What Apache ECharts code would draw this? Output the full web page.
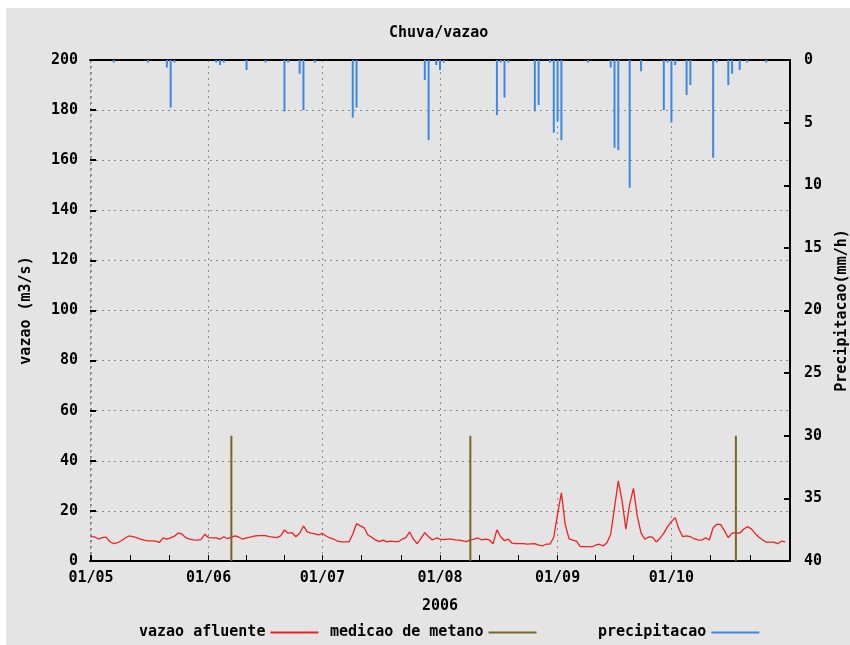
<!DOCTYPE html>
<html>
<head>
<meta charset="utf-8">
<script src="https://cdn.jsdelivr.net/npm/echarts@6/dist/echarts.min.js"></script>
<style>
  html, body { margin: 0; padding: 0; background: #fff; }
  #chart { width: 850px; height: 645px; }
</style>
</head>
<body>
<div id="chart"></div>
<script>
// Daily inflow (m3/s), 1 May 2006 onward
const flowStart = [2006, 4, 1];
const flowValues = [
  9.7, 9.6, 8.8, 9.3, 9.5, 7.7, 6.9, 7.3, 8.1, 9.2,
  10.0, 9.7, 9.3, 8.7, 8.3, 8.0, 8.0, 7.9, 7.4, 9.2,
  8.7, 9.2, 9.9, 11.2, 10.7, 9.3, 8.7, 8.4, 8.3, 8.5,
  10.7, 9.3, 9.2, 9.2, 8.7, 9.7, 8.9, 9.5, 10.0, 9.5,
  8.7, 9.2, 9.5, 9.9, 10.1, 10.1, 10.1, 9.7, 9.5, 9.3,
  10.0, 12.4, 11.1, 11.3, 9.7, 11.1, 14.0, 11.6, 11.1, 10.8,
  10.4, 11.0, 10.0, 9.2, 8.7, 7.9, 7.6, 7.6, 7.6, 10.7,
  14.9, 14.0, 13.3, 10.4, 9.5, 8.4, 7.7, 8.3, 7.6, 7.9,
  7.7, 7.7, 8.7, 9.3, 11.6, 8.7, 6.9, 9.1, 11.3, 9.7,
  8.4, 9.2, 8.7, 8.5, 8.7, 8.7, 8.4, 8.3, 8.0, 7.7,
  8.4, 8.7, 9.2, 8.4, 8.7, 8.4, 6.9, 12.4, 9.7, 8.1,
  8.7, 7.1, 6.9, 6.9, 6.9, 6.7, 6.8, 6.9, 6.3, 6.0,
  6.7, 6.7, 9.5, 18.7, 27.2, 14.7, 8.9, 8.3, 7.9, 5.7,
  5.7, 5.7, 5.6, 6.3, 6.7, 6.0, 7.3, 10.7, 21.3, 32.0,
  24.0, 12.7, 22.7, 29.0, 18.0, 11.1, 8.7, 9.6, 9.5, 7.6,
  9.1, 11.1, 13.7, 15.7, 17.3, 12.7, 9.7, 10.0, 9.7, 8.9,
  8.4, 8.3, 9.3, 8.4, 13.3, 14.7, 14.5, 12.0, 9.3, 11.1,
  11.2, 11.1, 12.7, 13.7, 12.9, 11.1, 9.6, 8.5, 7.5, 7.5,
  7.5, 6.9, 7.9, 7.6
];

// Methane sampling days
const metanoDates = ['2006-06-07', '2006-08-09', '2006-10-18'];
const metanoValues = [50, 50, 50];

// Rainfall (mm/h)
const precipDates = [
  '2006-05-07', '2006-05-16', '2006-05-21', '2006-05-22', '2006-05-23',
  '2006-06-03', '2006-06-04', '2006-06-05', '2006-06-11', '2006-06-16',
  '2006-06-21', '2006-06-22', '2006-06-25', '2006-06-26', '2006-06-29',
  '2006-07-09', '2006-07-10', '2006-07-28', '2006-07-29', '2006-07-31',
  '2006-08-01', '2006-08-02', '2006-08-16', '2006-08-17', '2006-08-18',
  '2006-08-19', '2006-08-26', '2006-08-27', '2006-08-30', '2006-08-31',
  '2006-09-01', '2006-09-02', '2006-09-09', '2006-09-15', '2006-09-16',
  '2006-09-17', '2006-09-20', '2006-09-23', '2006-09-29', '2006-09-30',
  '2006-10-01', '2006-10-02', '2006-10-05', '2006-10-06', '2006-10-12',
  '2006-10-13', '2006-10-16', '2006-10-17', '2006-10-19', '2006-10-21',
  '2006-10-26'
];
const precipValues = [
  0.2, 0.2, 0.6, 3.8, 0.2,
  0.2, 0.4, 0.2, 0.8, 0.2,
  4.1, 0.2, 1.1, 4.0, 0.2,
  4.6, 3.8, 1.6, 6.4, 0.4,
  0.8, 0.2, 4.4, 0.2, 3.0,
  0.2, 4.1, 3.6, 0.2, 5.8,
  4.9, 6.4, 0.2, 0.6, 7.0,
  7.2, 10.2, 0.9, 4.0, 0.2,
  5.0, 0.4, 2.8, 2.0, 7.8,
  0.2, 2.0, 1.1, 0.8, 0.2,
  0.2
];

const leftTicks = { min: 0, max: 200, interval: 20 };
const rightTicks = { min: 0, max: 40, interval: 5 };

const FONT = 'DejaVu Sans Mono';
const txt = { fontFamily: FONT, fontWeight: 'bold', fontSize: 15, color: '#000' };
const dotted = { color: '#8c8c8c', type: [2, 4], width: 1 };

const flowData = flowValues.map((v, i) => [new Date(flowStart[0], flowStart[1], flowStart[2] + i), v]);
const metanoData = metanoDates.map((d, i) => [d, metanoValues[i]]);
const precipData = precipDates.map((d, i) => [d, precipValues[i]]);

const xMin = new Date(2006, 4, 1).getTime();
const xMax = new Date(2006, 10, 1).getTime();

const pad2 = n => (n < 10 ? '0' : '') + n;
// dd/MM labels; the closing edge of the range carries no label
const dateLabel = value => {
  if (value >= xMax) return '';
  const d = new Date(value);
  return pad2(d.getDate()) + '/' + pad2(d.getMonth() + 1);
};

const chart = echarts.init(document.getElementById('chart'), null, { renderer: 'canvas' });

const legendBase = {
  top: 625, icon: 'rect', itemWidth: 48, itemHeight: 2, align: 'right',
  textStyle: Object.assign({}, txt), selectedMode: false, padding: 0
};

chart.setOption({
  animation: false,
  backgroundColor: '#ffffff',
  graphic: [{
    type: 'rect', left: 6, top: 8, z: -10, silent: true,
    shape: { width: 844, height: 637 },
    style: { fill: '#e4e4e4' }
  }],
  title: {
    text: 'Chuva/vazao', left: 389, top: 26, padding: 0,
    textStyle: Object.assign({}, txt)
  },
  legend: [
    Object.assign({}, legendBase, { left: 139, data: ['vazao afluente'] }),
    Object.assign({}, legendBase, { left: 330, data: ['medicao de metano'] }),
    Object.assign({}, legendBase, { left: 598, data: ['precipitacao'] })
  ],
  grid: { left: 90, right: 60, top: 60, bottom: 84, containLabel: false, outerBoundsMode: 'none' },
  xAxis: [{
    type: 'time', min: xMin, max: xMax, splitNumber: 6,
    name: '2006', nameLocation: 'middle', nameGap: 38,
    nameTextStyle: Object.assign({}, txt),
    axisLine: { show: true, lineStyle: { color: '#000', width: 2 } },
    axisTick: { show: true, inside: true, length: 6, lineStyle: { color: '#000', width: 1 } },
    minorTick: { show: true, splitNumber: 3, length: 6, lineStyle: { color: '#000', width: 1 } },
    axisLabel: Object.assign({}, txt, { formatter: dateLabel, margin: 10, hideOverlap: false }),
    splitLine: { show: true, lineStyle: dotted }
  }, {
    type: 'time', min: xMin, max: xMax, position: 'top',
    axisLine: { show: true, lineStyle: { color: '#000', width: 2 } },
    axisTick: { show: false }, axisLabel: { show: false }, splitLine: { show: false }
  }],
  yAxis: [{
    type: 'value', min: leftTicks.min, max: leftTicks.max, interval: leftTicks.interval,
    name: 'vazao (m3/s)', nameLocation: 'middle', nameGap: 56, nameRotate: 90,
    nameTextStyle: Object.assign({}, txt),
    axisLine: { show: true, lineStyle: dotted },
    axisTick: { show: true, inside: true, length: 6, lineStyle: { color: '#000', width: 2 } },
    axisLabel: Object.assign({}, txt, { margin: 12 }),
    splitLine: { show: true, lineStyle: dotted }
  }, {
    type: 'value', min: rightTicks.min, max: rightTicks.max, interval: rightTicks.interval,
    inverse: true, position: 'right',
    name: 'Precipitacao(mm/h)', nameLocation: 'middle', nameGap: 45, nameRotate: 90,
    nameTextStyle: Object.assign({}, txt),
    axisLine: { show: true, lineStyle: { color: '#000', width: 2 } },
    axisTick: { show: true, inside: true, length: 6, lineStyle: { color: '#000', width: 2 } },
    axisLabel: Object.assign({}, txt, { margin: 14 }),
    splitLine: { show: false }
  }],
  series: [{
    name: 'vazao afluente', type: 'line', xAxisIndex: 0, yAxisIndex: 0,
    data: flowData, showSymbol: false, symbol: 'none',
    lineStyle: { color: '#f02020', width: 1.3 }, itemStyle: { color: '#f02020' }, z: 3
  }, {
    name: 'medicao de metano', type: 'bar', xAxisIndex: 0, yAxisIndex: 0,
    data: metanoData, barWidth: 2, barGap: '-100%',
    itemStyle: { color: '#7d6425' }, z: 4
  }, {
    name: 'precipitacao', type: 'bar', xAxisIndex: 0, yAxisIndex: 1,
    data: precipData, barWidth: 2, barGap: '-100%',
    itemStyle: { color: '#3d88e6' }, z: 2
  }]
});
</script>
</body>
</html>
